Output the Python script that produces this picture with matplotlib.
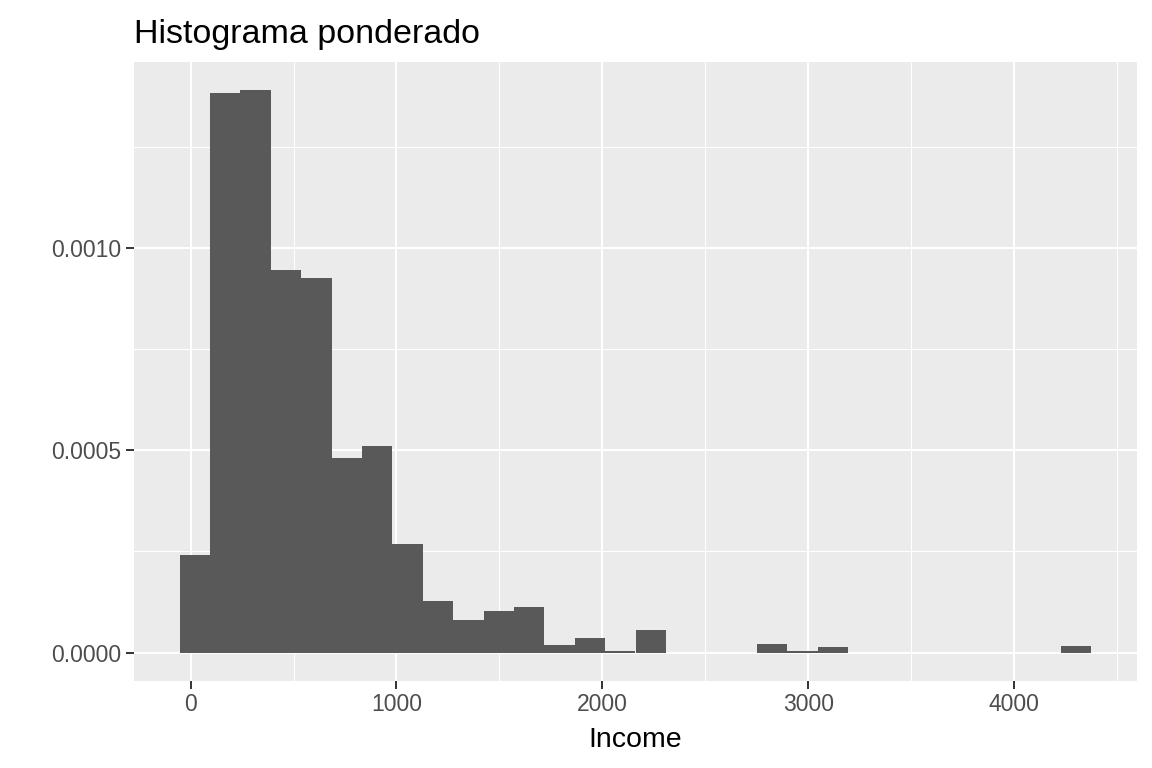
import numpy as np
import matplotlib as mpl
mpl.use('Agg')
from matplotlib import pyplot as plt
import matplotlib.ticker as ticker

# weighted histogram, 30 bins (ggplot style)
bin_start = -53.5
bin_width = 147.65
density = [0.000240, 0.001383, 0.001390, 0.000945, 0.000925,
           0.000481, 0.000511, 0.000269, 0.000127, 0.0000800,
           0.000102, 0.000112, 0.0000185, 0.0000355, 0.0000050,
           0.0000556, 0.0, 0.0, 0.0, 0.0000213,
           0.0000049, 0.0000139, 0.0, 0.0, 0.0,
           0.0, 0.0, 0.0, 0.0, 0.0000164]

x_ticks = [0, 1000, 2000, 3000, 4000]
y_ticks = [0.0, 0.0005, 0.0010]

edges = bin_start + bin_width * np.arange(len(density))

plt.rcParams['font.family'] = ['Liberation Sans', 'DejaVu Sans']

fig = plt.figure(figsize=(11.52, 7.68), dpi=100)
ax = fig.add_axes([134/1152, 1 - 680.7/768, (1137-134)/1152, (680.7-62)/768])
ax.set_facecolor('#EBEBEB')

heights = np.array(density)
mask = heights > 0
ax.bar(edges[mask], heights[mask], width=bin_width, align='edge',
       color='#595959', linewidth=0, zorder=3)

xmin, xmax = bin_start, bin_start + bin_width * len(density)
xr = xmax - xmin
ax.set_xlim(xmin - 0.05 * xr, xmax + 0.05 * xr)
ymax = max(density)
ax.set_ylim(-0.05 * ymax, ymax * 1.05)

ax.set_xticks(x_ticks)
ax.set_yticks(y_ticks)
ax.xaxis.set_minor_locator(ticker.FixedLocator([500, 1500, 2500, 3500, 4500]))
ax.yaxis.set_minor_locator(ticker.FixedLocator([0.00025, 0.00075, 0.00125]))
ax.yaxis.set_major_formatter(ticker.FormatStrFormatter('%.4f'))

ax.grid(which='major', color='white', linewidth=1.5, zorder=1)
ax.grid(which='minor', color='white', linewidth=0.75, zorder=1)
ax.set_axisbelow(True)

for s in ax.spines.values():
    s.set_visible(False)

ax.tick_params(which='major', length=5.5, width=1.4, color='#333333',
               labelcolor='#4D4D4D', labelsize=16.5, pad=3.5)
ax.tick_params(which='minor', length=0)

ax.set_xlabel('Income', fontsize=20.5, color='black', labelpad=8)
ax.set_title('Histograma ponderado', loc='left', fontsize=24.5, color='black', pad=14)

plt.savefig('out.png', dpi=100)
